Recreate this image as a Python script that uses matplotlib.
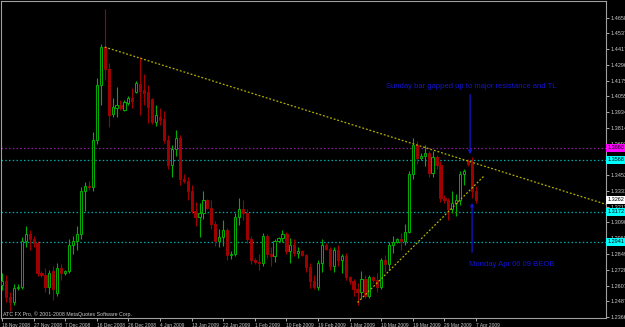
import matplotlib
matplotlib.use("Agg")
import matplotlib.pyplot as plt
from matplotlib.transforms import blended_transform_factory

plt.rcParams['font.family'] = ['Liberation Sans', 'DejaVu Sans']

# daily EURUSD bars (MT4 with Sunday bars)
opens = [1.2610, 1.2640, 1.2520, 1.2482, 1.2590, 1.2600, 1.2950, 1.3000, 1.2960, 1.2930,
         1.2700, 1.2690, 1.2600, 1.2720, 1.2550, 1.2740, 1.2700, 1.2720, 1.2920, 1.2950,
         1.3000, 1.3330, 1.3370, 1.3360, 1.3720, 1.4142, 1.4432, 1.4264, 1.3920, 1.3966,
         1.3989, 1.3950, 1.4004, 1.4042, 1.4088, 1.4149, 1.4103, 1.4088, 1.4035, 1.3859,
         1.3897, 1.3882, 1.3721, 1.3530, 1.3650, 1.3740, 1.3420, 1.3410, 1.3330, 1.3180,
         1.3130, 1.3160, 1.3260, 1.3200, 1.3080, 1.2950, 1.2980, 1.3030, 1.2840, 1.2850,
         1.3130, 1.3190, 1.3160, 1.2960, 1.2800, 1.2790, 1.2780, 1.2990, 1.2850, 1.2830,
         1.2950, 1.2970, 1.3000, 1.2870, 1.2920, 1.2860, 1.2870, 1.2840, 1.2750, 1.2640,
         1.2600, 1.2780, 1.2920, 1.2890, 1.2760, 1.2880, 1.2800, 1.2830, 1.2670, 1.2640,
         1.2580, 1.2560, 1.2660, 1.2530, 1.2670, 1.2650, 1.2600, 1.2800, 1.2770, 1.2920,
         1.2940, 1.2960, 1.2950, 1.3020, 1.3460, 1.3680, 1.3580, 1.3600, 1.3620, 1.3470,
         1.3590, 1.3530, 1.3280, 1.3260, 1.3190, 1.3240, 1.3260, 1.3460, 1.3560, 1.3545,
         1.3330]
highs = [1.2700, 1.2690, 1.2560, 1.2620, 1.2620, 1.2980, 1.3060, 1.3030, 1.2990, 1.2950,
         1.2720, 1.2740, 1.2730, 1.2760, 1.2780, 1.2770, 1.2730, 1.2960, 1.2990, 1.3060,
         1.3360, 1.3400, 1.3410, 1.3780, 1.4195, 1.4455, 1.4723, 1.4310, 1.4042, 1.4126,
         1.4027, 1.4027, 1.4057, 1.4119, 1.4172, 1.4356, 1.4226, 1.4142, 1.4042, 1.3989,
         1.3966, 1.3943, 1.3760, 1.3680, 1.3800, 1.3760, 1.3460, 1.3440, 1.3380, 1.3250,
         1.3240, 1.3330, 1.3270, 1.3260, 1.3100, 1.3040, 1.3110, 1.3050, 1.2870, 1.3160,
         1.3280, 1.3260, 1.3190, 1.2990, 1.2820, 1.2850, 1.3010, 1.3000, 1.2900, 1.2960,
         1.2980, 1.3030, 1.3020, 1.2970, 1.2960, 1.2900, 1.2880, 1.2850, 1.2780, 1.2690,
         1.2800, 1.2960, 1.2930, 1.2900, 1.2900, 1.2920, 1.2850, 1.2860, 1.2680, 1.2660,
         1.2630, 1.2720, 1.2690, 1.2690, 1.2680, 1.2700, 1.2820, 1.2840, 1.2940, 1.2990,
         1.2970, 1.3010, 1.3080, 1.3480, 1.3738, 1.3710, 1.3620, 1.3680, 1.3640, 1.3640,
         1.3610, 1.3560, 1.3300, 1.3280, 1.3330, 1.3310, 1.3480, 1.3500, 1.3575, 1.3590,
         1.3370]
lows = [1.2570, 1.2480, 1.2413, 1.2459, 1.2570, 1.2580, 1.2900, 1.2880, 1.2900, 1.2680,
        1.2670, 1.2560, 1.2540, 1.2500, 1.2530, 1.2650, 1.2690, 1.2700, 1.2850, 1.2880,
        1.2960, 1.3180, 1.3340, 1.3330, 1.3690, 1.3989, 1.4180, 1.3820, 1.3897, 1.3897,
        1.3950, 1.3943, 1.3989, 1.3966, 1.4080, 1.3912, 1.3989, 1.3851, 1.3843, 1.3828,
        1.3836, 1.3700, 1.3500, 1.3440, 1.3600, 1.3380, 1.3390, 1.3260, 1.3160, 1.3060,
        1.2980, 1.3120, 1.3190, 1.3040, 1.2910, 1.2900, 1.2910, 1.2800, 1.2810, 1.2830,
        1.3070, 1.3110, 1.2930, 1.2770, 1.2770, 1.2730, 1.2760, 1.2820, 1.2760, 1.2790,
        1.2940, 1.2940, 1.2850, 1.2780, 1.2830, 1.2820, 1.2830, 1.2710, 1.2590, 1.2580,
        1.2570, 1.2710, 1.2880, 1.2730, 1.2710, 1.2760, 1.2700, 1.2650, 1.2620, 1.2530,
        1.2455, 1.2510, 1.2510, 1.2510, 1.2630, 1.2560, 1.2580, 1.2710, 1.2730, 1.2860,
        1.2930, 1.2880, 1.2920, 1.3010, 1.3420, 1.3540, 1.3570, 1.3520, 1.3440, 1.3440,
        1.3500, 1.3250, 1.3240, 1.3110, 1.3160, 1.3140, 1.3220, 1.3380, 1.3520, 1.3280,
        1.3240]
closes = [1.2640, 1.2520, 1.2482, 1.2590, 1.2600, 1.2950, 1.3000, 1.2960, 1.2930, 1.2700,
          1.2690, 1.2600, 1.2700, 1.2580, 1.2740, 1.2700, 1.2720, 1.2920, 1.2950, 1.3000,
          1.3330, 1.3370, 1.3360, 1.3720, 1.4142, 1.4432, 1.4264, 1.3912, 1.3973, 1.3989,
          1.3966, 1.4012, 1.4042, 1.4019, 1.4157, 1.4096, 1.4080, 1.3973, 1.3859, 1.3912,
          1.3874, 1.3721, 1.3530, 1.3650, 1.3740, 1.3420, 1.3410, 1.3330, 1.3180, 1.3130,
          1.3160, 1.3260, 1.3200, 1.3080, 1.2950, 1.2980, 1.3030, 1.2840, 1.2850, 1.3130,
          1.3190, 1.3160, 1.2960, 1.2800, 1.2790, 1.2780, 1.2990, 1.2850, 1.2830, 1.2950,
          1.2970, 1.3000, 1.2870, 1.2920, 1.2860, 1.2870, 1.2840, 1.2750, 1.2640, 1.2600,
          1.2780, 1.2920, 1.2890, 1.2760, 1.2880, 1.2800, 1.2830, 1.2670, 1.2640, 1.2580,
          1.2560, 1.2660, 1.2530, 1.2670, 1.2650, 1.2600, 1.2800, 1.2770, 1.2920, 1.2940,
          1.2960, 1.2950, 1.3020, 1.3460, 1.3680, 1.3580, 1.3600, 1.3620, 1.3470, 1.3590,
          1.3530, 1.3280, 1.3260, 1.3190, 1.3240, 1.3260, 1.3460, 1.3480, 1.3540, 1.3330,
          1.3262]

date_labels = ['18 Nov 2008', '27 Nov 2008', '7 Dec 2008', '16 Dec 2008', '26 Dec 2008',
               '4 Jan 2009', '13 Jan 2009', '22 Jan 2009', '1 Feb 2009', '10 Feb 2009',
               '19 Feb 2009', '1 Mar 2009', '10 Mar 2009', '19 Mar 2009', '29 Mar 2009',
               '7 Apr 2009']
date_bars = [0, 8, 16, 24, 32, 40, 48, 56, 64, 72, 80, 88, 96, 104, 112, 120]

price_ticks = [1.4658, 1.4537, 1.4417, 1.4296, 1.4175, 1.4055, 1.3934, 1.3814, 1.3693,
               1.3573, 1.3452, 1.3331, 1.3211, 1.3090, 1.2969, 1.2849, 1.2728, 1.2607,
               1.2487, 1.2366]

# horizontal levels drawn on the chart
magenta_level = 1.3660
cyan_levels = [1.3568, 1.3172, 1.2941]
last_price = 1.3262

# trendlines (bar index, price)
tl_x = [26, 153]
tl_y = [1.4432, 1.3228]
sup_x = [90, 122]
sup_y = [1.2478, 1.3445]

BG = 'black'
FG = '#c8c8c8'
UP = '#00b000'
DN = '#a00000'
BLUE = '#1414d2'

fig = plt.figure(figsize=(6.25, 3.27), dpi=100, facecolor=BG)
ax = fig.add_axes([1 / 625, 1 - 318.3 / 327, 605 / 625, 317 / 327], facecolor=BG)
ax.set_xlim(-0.25, 152.9)
ax.set_ylim(1.2357, 1.4782)

# horizontal levels
ax.axhline(magenta_level, color='#8c1c9c', lw=0.9, ls=(0, (1.2, 1.8)), zorder=1)
for lv in cyan_levels:
    ax.axhline(lv, color='#00a8a8', lw=0.9, ls=(0, (1.2, 1.8)), zorder=1)

# candles
idx = list(range(len(closes)))
ax.vlines(idx, lows, highs, colors=[UP if c >= o else DN for o, c in zip(opens, closes)],
          lw=0.8, zorder=2)
up = [i for i in idx if closes[i] >= opens[i]]
dn = [i for i in idx if closes[i] < opens[i]]
ax.bar(up, [max(closes[i] - opens[i], 0.0002) for i in up], bottom=[opens[i] for i in up],
       width=0.55, facecolor=BG, edgecolor=UP, linewidth=0.7, zorder=3)
ax.bar(dn, [opens[i] - closes[i] for i in dn], bottom=[closes[i] for i in dn],
       width=0.55, facecolor=DN, edgecolor=DN, linewidth=0.7, zorder=3)

# trendlines
ax.plot(tl_x, tl_y, color='#b4b000', lw=0.9, ls=(0, (1.5, 1.5)), zorder=4)
ax.plot(sup_x, sup_y, color='#b4b000', lw=0.9, ls=(0, (1.5, 1.5)), zorder=4)

# annotations
ax.text(97.2, 1.4134, 'Sunday bar gapped up to major resistance and TL', color=BLUE,
        fontsize=5.5, ha='left', va='center', zorder=5)
ax.annotate('', xy=(118.5, 1.3591), xytext=(118.5, 1.4088),
            arrowprops=dict(arrowstyle='-|>', color=BLUE, lw=0.9, mutation_scale=5), zorder=5)
ax.text(118.2, 1.2772, 'Monday Apr 06 09 BEOB', color=BLUE,
        fontsize=5.5, ha='left', va='center', zorder=5)
ax.annotate('', xy=(119, 1.3262), xytext=(119, 1.2841),
            arrowprops=dict(arrowstyle='-|>', color=BLUE, lw=0.9, mutation_scale=5), zorder=5)

ax.text(0.0035, 0.0135, 'ATC FX Pro, \u00a9 2001-2008 MetaQuotes Software Corp.',
        transform=ax.transAxes, color=FG, fontsize=3.8, ha='left', va='center')

# axes styling
for s in ax.spines.values():
    s.set_color('#a0a0a0')
    s.set_linewidth(0.8)
ax.yaxis.tick_right()
ax.set_yticks(price_ticks)
ax.set_yticklabels(['%.4f' % v for v in price_ticks])
ax.set_xticks(date_bars)
ax.set_xticklabels(date_labels, ha='left')
ax.tick_params(axis='both', colors=FG, labelsize=4, length=2, width=0.6, pad=1)
ax.tick_params(axis='x', labelsize=3.5, pad=1.5)

# price boxes on the right axis
ytr = blended_transform_factory(ax.transAxes, ax.transData)
boxes = [(magenta_level, '#ff00ff'), (last_price, 'white')] + [(lv, '#00ffff') for lv in cyan_levels]
for lv, col in boxes:
    ax.text(1.003, lv, '%.4f' % lv, transform=ytr, fontsize=4, color='black',
            ha='left', va='center', clip_on=False, zorder=10,
            bbox=dict(boxstyle='square,pad=0.25', fc=col, ec='none'))

fig.savefig('out.png', dpi=100, facecolor=BG)
